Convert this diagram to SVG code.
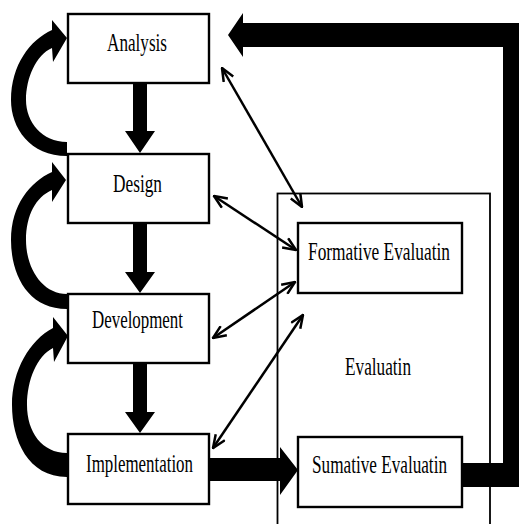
<svg xmlns="http://www.w3.org/2000/svg" width="519" height="524" viewBox="0 0 519 524">
<style>
.box{fill:#fff;stroke:#000;stroke-width:2.4}
.outer{fill:none;stroke:#000;stroke-width:1.8}
.lbl{font-family:"Liberation Serif","Times New Roman",serif;font-size:25px;fill:#000}
.thick{fill:#000;stroke:none}
.thin{fill:none;stroke:#000;stroke-width:2.5;marker-start:url(#oa);marker-end:url(#oa)}
</style>
<defs>
<marker id="oa" viewBox="0 0 15 13" markerWidth="15" markerHeight="13" refX="14" refY="6.5" markerUnits="userSpaceOnUse" orient="auto-start-reverse">
<path d="M1,1 L14,6.5 L1,12" fill="none" stroke="#000" stroke-width="2.5"/>
</marker>
</defs>
<rect width="519" height="524" fill="#fff"/>
<g id="evaluatin">
<rect class="outer" x="277.5" y="193.5" width="212.5" height="345"/>
<text class="lbl" x="345" y="375" textLength="66" lengthAdjust="spacingAndGlyphs">Evaluatin</text>
</g>
<g id="connectors">
<polygon class="thick" points="133,83 147,83 147,131 155,131 140,153 125,131 133,131"/>
<polygon class="thick" points="133,223 147,223 147,272 155,272 140,293 125,272 133,272"/>
<polygon class="thick" points="133,363 147,363 147,412 155,412 140,433 125,412 133,412"/>
<path class="thick" d="M67,156 C30,156 11,128 11,100 C11,65 30,40 52,30 L52,20 L67,38 L53,62 L52,48 C36,55 26,78 26,100 C26,122 42,142 67,142 Z"/>
<path class="thick" d="M67,309 C28,309 11,275 11,240 C11,205 30,182 52,172 L52,162 L66,180 L52,202 L52,190 C36,197 26,215 26,240 C26,268 42,294 67,294 Z"/>
<path class="thick" d="M67,477 C28,477 12,440 12,405 C12,370 30,340 53,328 L53,317 L68,336 L54,362 L53,348 C37,356 27,380 27,405 C27,432 42,453 67,453 Z"/>
<polygon class="thick" points="209,458 280,458 280,447 298,470 280,495 280,481 209,481"/>
<polygon class="thick" points="462,463 503,463 503,47 243,47 243,57 228,35 243,13 243,23 527,23 527,487 462,487"/>
<line class="thin" x1="222" y1="68" x2="302" y2="207"/>
<line class="thin" x1="214" y1="196" x2="296" y2="250"/>
<line class="thin" x1="213" y1="338" x2="295" y2="282"/>
<line class="thin" x1="213" y1="448" x2="303" y2="315"/>
</g>
<g id="analysis">
<rect class="box" x="68" y="14" width="141" height="69"/>
<text class="lbl" x="107" y="51" textLength="60" lengthAdjust="spacingAndGlyphs">Analysis</text>
</g>
<g id="design">
<rect class="box" x="68" y="154" width="141" height="69"/>
<text class="lbl" x="113" y="192" textLength="49" lengthAdjust="spacingAndGlyphs">Design</text>
</g>
<g id="development">
<rect class="box" x="68" y="294" width="141" height="69"/>
<text class="lbl" x="92" y="328" textLength="91" lengthAdjust="spacingAndGlyphs">Development</text>
</g>
<g id="implementation">
<rect class="box" x="68" y="434" width="141" height="70"/>
<text class="lbl" x="86" y="472" textLength="107" lengthAdjust="spacingAndGlyphs">Implementation</text>
</g>
<g id="formative">
<rect class="box" x="298" y="223" width="164" height="70"/>
<text class="lbl" x="308" y="260" textLength="142" lengthAdjust="spacingAndGlyphs">Formative Evaluatin</text>
</g>
<g id="sumative">
<rect class="box" x="298" y="437" width="164" height="70"/>
<text class="lbl" x="312" y="473" textLength="135" lengthAdjust="spacingAndGlyphs">Sumative Evaluatin</text>
</g>
</svg>
